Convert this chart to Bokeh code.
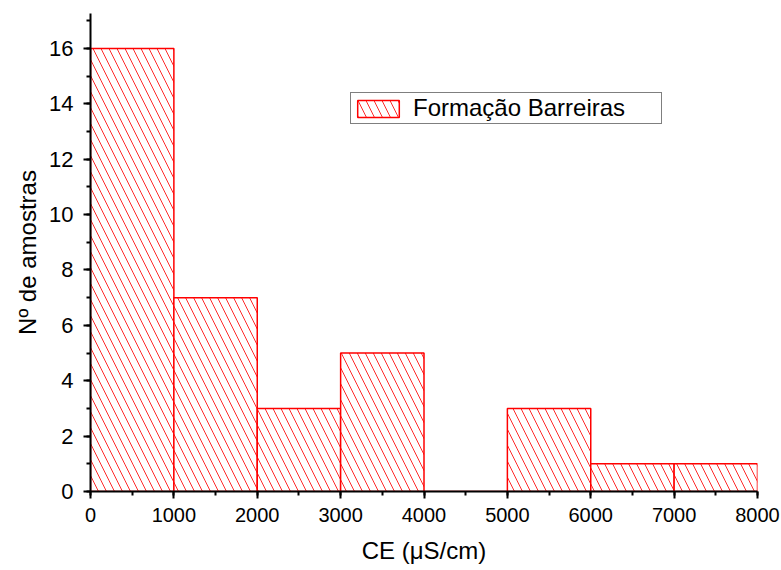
from bokeh.plotting import figure
from bokeh.models import Range1d, Legend, LegendItem, FixedTicker
from bokeh.embed import file_html
from bokeh.resources import INLINE

bin_left = [0, 1000, 2000, 3000, 4000, 5000, 6000, 7000]
bin_right = [1000, 2000, 3000, 4000, 5000, 6000, 7000, 8000]
counts = [16, 7, 3, 5, 0, 3, 1, 1]
x_ticks = [0, 1000, 2000, 3000, 4000, 5000, 6000, 7000, 8000]
y_ticks = [0, 2, 4, 6, 8, 10, 12, 14, 16]
series_name = "Formação Barreiras"

p = figure(width=781, height=570, output_backend="svg", toolbar_location=None,
           x_range=Range1d(0, 8000), y_range=Range1d(0, 17.26),
           min_border_left=90, min_border_right=24, min_border_top=13, min_border_bottom=79)
p.outline_line_color = None
p.grid.visible = False
p.background_fill_color = "white"

r = p.quad(left=bin_left, right=bin_right, bottom=0, top=counts,
           fill_color="white", line_color="#ff0000", line_width=1.5,
           hatch_pattern="\\", hatch_color="#ff2a2a", hatch_scale=16, hatch_weight=1)

font = "Liberation Sans"
for ax in (p.xaxis[0], p.yaxis[0]):
    ax.axis_line_color = "black"
    ax.axis_line_width = 2
    ax.major_tick_line_color = "black"
    ax.major_tick_line_width = 2
    ax.minor_tick_line_color = "black"
    ax.minor_tick_line_width = 2
    ax.major_tick_in = 0
    ax.major_tick_out = 7
    ax.minor_tick_in = 0
    ax.minor_tick_out = 4
    ax.major_label_text_font = font
    ax.major_label_text_color = "black"
    ax.axis_label_text_font = font
    ax.axis_label_text_font_size = "24px"
    ax.axis_label_text_font_style = "normal"
    ax.axis_label_text_color = "black"

p.xaxis.major_label_text_font_size = "20px"
p.yaxis.major_label_text_font_size = "22px"
p.xaxis.ticker = FixedTicker(ticks=x_ticks, minor_ticks=[500 * i for i in range(17)])
p.yaxis.ticker = FixedTicker(ticks=y_ticks, minor_ticks=list(range(0, 18)))
p.xaxis.axis_label = "CE (μS/cm)"
p.yaxis.axis_label = "Nº de amostras"
p.xaxis.major_label_standoff = 9
p.yaxis.major_label_standoff = 10
p.xaxis.axis_label_standoff = 12
p.yaxis.axis_label_standoff = 5

legend = Legend(items=[LegendItem(label=series_name, renderers=[r])],
                location=(260, 367))
legend.border_line_color = "black"
legend.border_line_width = 1.2
legend.label_text_font = font
legend.label_text_font_size = "24px"
legend.label_text_color = "black"
legend.glyph_width = 52
legend.glyph_height = 21
legend.label_width = 247
legend.label_height = 21
legend.padding = 1
legend.margin = 0
legend.spacing = 0
legend.label_standoff = 9
legend.background_fill_alpha = 1
p.add_layout(legend, "center")

open("out.html", "w").write(file_html(p, INLINE))
